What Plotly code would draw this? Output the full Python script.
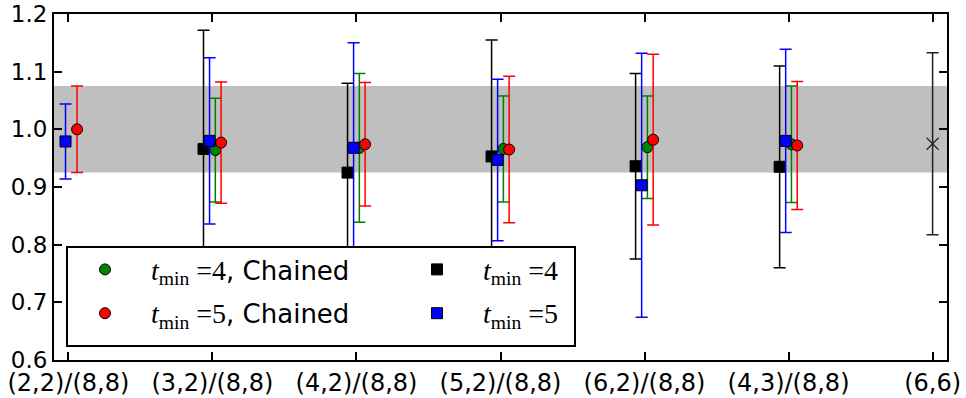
import plotly.graph_objects as go

categories = ["(2,2)/(8,8)", "(3,2)/(8,8)", "(4,2)/(8,8)", "(5,2)/(8,8)",
              "(6,2)/(8,8)", "(4,3)/(8,8)", "(6,6)"]

# t_min=4, Chained (green circles) -- categories 1..5
chain4_idx = [1, 2, 3, 4, 5]
chain4_val = [0.964, 0.968, 0.966, 0.969, 0.974]
chain4_err = [0.090, 0.129, 0.092, 0.089, 0.101]

# t_min=5, Chained (red circles) -- categories 0..5
chain5_idx = [0, 1, 2, 3, 4, 5]
chain5_val = [1.000, 0.977, 0.974, 0.965, 0.982, 0.972]
chain5_err = [0.075, 0.105, 0.107, 0.127, 0.148, 0.111]

# t_min=4 (black squares) -- categories 1..5
t4_idx = [1, 2, 3, 4, 5]
t4_val = [0.966, 0.925, 0.953, 0.936, 0.935]
t4_err = [0.206, 0.155, 0.202, 0.161, 0.175]

# t_min=5 (blue squares) -- categories 0..5
t5_idx = [0, 1, 2, 3, 4, 5]
t5_val = [0.979, 0.980, 0.968, 0.947, 0.903, 0.980]
t5_err = [0.065, 0.144, 0.182, 0.140, 0.229, 0.159]

# reference point (6,6)
ref_idx = [6]
ref_val = [0.975]
ref_err = [0.158]

# grey band
band_center = 1.0
band_half = 0.075

yticks = [0.6, 0.7, 0.8, 0.9, 1.0, 1.1, 1.2]

MATH_FONT = "Liberation Serif"
SANS = "DejaVu Sans"

# plot-area geometry in pixels (for converting legend placement)
W, H = 966, 398
ML, MR, MT, MB = 54, 19, 14, 38
PW, PH = W - ML - MR, H - MT - MB


def px_x(p):
    return (p - ML) / PW


def px_y(p):
    return (H - MB - p) / PH


def tlabel(n, chained):
    s = (f"<span style='font-family:{MATH_FONT};font-size:28px'>"
         f"<i>t</i><sub>min</sub> ={n}</span>")
    if chained:
        s += ", Chained"
    return s


def series(idx, val, err, color, symbol, name, offset, legend, group,
           size=11):
    return go.Scatter(
        x=[i + offset for i in idx], y=val,
        mode="markers", name=name, legend=legend, legendgroup=group,
        marker=dict(color=color, symbol=symbol, size=size,
                    line=dict(color="black", width=1)),
        error_y=dict(type="data", array=err, visible=True, color=color,
                     thickness=1.5, width=6),
    )


fig = go.Figure()

fig.add_shape(type="rect", xref="paper", yref="y", x0=0, x1=1,
              y0=band_center - band_half, y1=band_center + band_half,
              fillcolor="#bfbfbf", line=dict(width=0), layer="below")

fig.add_trace(series(chain4_idx, chain4_val, chain4_err, "#008000", "circle",
                     tlabel(4, True), 0.02, "legend", "g1"))
fig.add_trace(series(chain5_idx, chain5_val, chain5_err, "#ff0000", "circle",
                     tlabel(5, True), 0.06, "legend", "g2"))
fig.add_trace(series(t4_idx, t4_val, t4_err, "#000000", "square",
                     tlabel(4, False), -0.062, "legend2", "g3"))
fig.add_trace(series(t5_idx, t5_val, t5_err, "#0000ff", "square",
                     tlabel(5, False), -0.02, "legend2", "g4"))

fig.add_trace(go.Scatter(
    x=ref_idx, y=ref_val, mode="markers", showlegend=False,
    marker=dict(symbol="x-thin", size=12, color="#222222",
                line=dict(color="#222222", width=1.2)),
    error_y=dict(type="data", array=ref_err, visible=True, color="#222222",
                 thickness=1.5, width=6),
))

# legend frame (white box drawn above the data, legends sit on top)
fig.add_shape(type="rect", xref="paper", yref="paper",
              x0=px_x(67), x1=px_x(575), y0=px_y(346), y1=px_y(247),
              fillcolor="white", line=dict(color="black", width=2),
              layer="above")

leg_common = dict(
    orientation="v", xanchor="left", yanchor="top",
    bgcolor="rgba(0,0,0,0)", borderwidth=0,
    font=dict(family=SANS, size=26, color="black"),
    tracegroupgap=7, itemwidth=82, traceorder="grouped",
)

fig.update_layout(
    width=W, height=H,
    margin=dict(l=ML, r=MR, t=MT, b=MB),
    paper_bgcolor="white", plot_bgcolor="white",
    font=dict(family=SANS, size=22, color="black"),
    showlegend=True,
    legend=dict(x=px_x(59), y=px_y(246), **leg_common),
    legend2=dict(x=px_x(391), y=px_y(246), **leg_common),
)

fig.update_xaxes(
    range=[-0.1, 6.1], tickmode="array",
    tickvals=list(range(len(categories))), ticktext=categories,
    showline=True, linecolor="black", linewidth=2, mirror="ticks",
    ticks="inside", ticklen=8, tickwidth=1.5, tickcolor="black",
    showgrid=False, zeroline=False, automargin=False,
    tickfont=dict(family=SANS, size=24),
)
fig.update_yaxes(
    range=[0.6, 1.2], tickmode="array", tickvals=yticks,
    ticktext=[f"{v:.1f}" for v in yticks],
    showline=True, linecolor="black", linewidth=2, mirror="ticks",
    ticks="inside", ticklen=8, tickwidth=1.5, tickcolor="black",
    showgrid=False, zeroline=False, automargin=False,
    tickfont=dict(family=SANS, size=23),
)

fig.write_html("out.html")
